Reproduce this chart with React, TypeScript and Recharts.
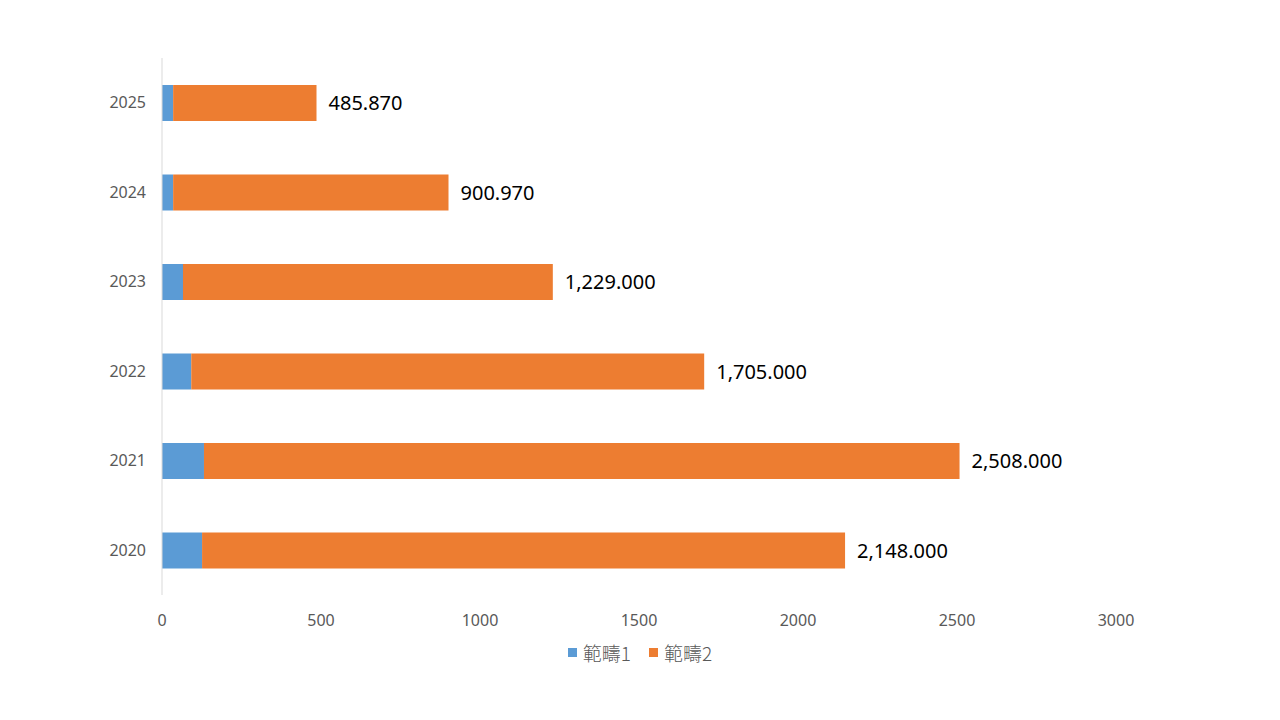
import React from "react";
import { BarChart, Bar, XAxis, YAxis, Legend, LabelList } from "recharts";

const categories = ["2025", "2024", "2023", "2022", "2021", "2020"];
const series1 = [35, 35, 66, 92, 132, 126];
const series2 = [450.87, 865.97, 1163, 1613, 2376, 2022];
const totalLabels = ["485.870", "900.970", "1,229.000", "1,705.000", "2,508.000", "2,148.000"];
const xTicks = [0, 500, 1000, 1500, 2000, 2500, 3000];

const data = categories.map((c, i) => ({
  year: c,
  s1: series1[i],
  s2: series2[i],
  label: totalLabels[i],
}));

const FONT = "'Noto Sans', 'Noto Sans CJK TC', sans-serif";

const renderLegend = (props: any) => {
  const payload = props.payload || [];
  return (
    <div style={{ display: "flex", justifyContent: "center", alignItems: "center", width: 1280, height: 24, fontFamily: "'Noto Sans CJK TC', 'Noto Sans', sans-serif", fontSize: 19, color: "#595959" }}>
      {payload.map((p: any, i: number) => (
        <div key={i} style={{ display: "flex", alignItems: "center", marginRight: i < payload.length - 1 ? 18 : 0 }}>
          <span style={{ display: "inline-block", width: 9, height: 9, background: p.color, marginRight: 6 }} />
          <span style={{ fontWeight: 300 }}>{p.value}</span>
        </div>
      ))}
    </div>
  );
};

export default function App() {
  return (
    <div style={{ position: "absolute", left: 0, top: 0, width: 1280, height: 720, background: "#fff" }}>
      <BarChart
        width={1280}
        height={720}
        data={data}
        layout="vertical"
        margin={{ top: 58, right: 164, bottom: 71, left: 0 }}
      >
        <XAxis
          type="number"
          domain={[0, 3000]}
          ticks={xTicks}
          axisLine={false}
          tickLine={false}
          tickMargin={14}
          tick={{ fill: "#595959", fontSize: 16, fontFamily: FONT }}
          height={30}
        />
        <YAxis
          type="category"
          dataKey="year"
          width={162}
          axisLine={{ stroke: "#d9d9d9" }}
          tickLine={false}
          tickSize={0}
          tickMargin={16}
          tick={{ fill: "#595959", fontSize: 16, fontFamily: FONT }}
        />
        <Legend
          verticalAlign="bottom"
          align="center"
          height={24}
          content={renderLegend}
          wrapperStyle={{ top: 640, left: 0, width: 1280 }}
        />
        <Bar dataKey="s1" name="範疇1" stackId="a" fill="#5b9bd5" barSize={36} isAnimationActive={false} />
        <Bar dataKey="s2" name="範疇2" stackId="a" fill="#ed7d31" barSize={36} isAnimationActive={false}>
          <LabelList
            dataKey="label"
            position="right"
            offset={12}
            style={{ fill: "#000", fontSize: 20, fontFamily: FONT }}
          />
        </Bar>
      </BarChart>
    </div>
  );
}
